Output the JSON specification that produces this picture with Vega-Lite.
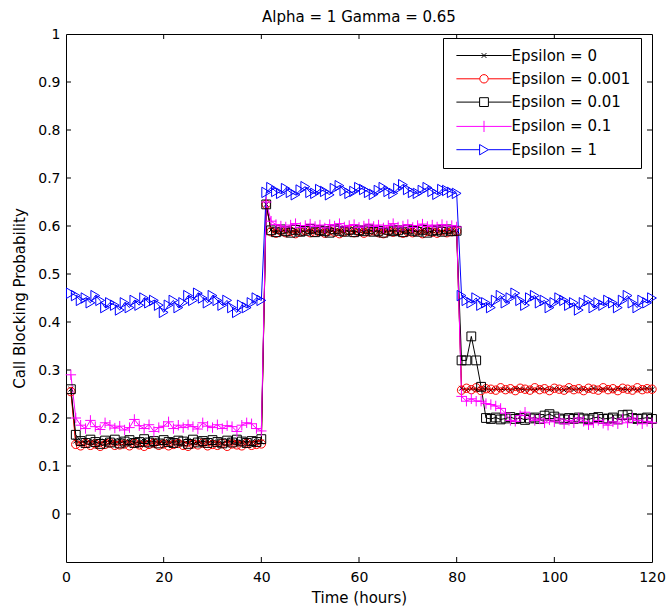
{
"$schema": "https://vega.github.io/schema/vega-lite/v6.json",
"width": 586, "height": 528,
"autosize": "none",
"padding": {"left": 66, "top": 34, "right": 16, "bottom": 47},
"background": "white",
"title": {"text": "Alpha = 1 Gamma = 0.65", "font": "DejaVu Sans", "fontSize": 15, "fontWeight": "normal", "color": "#000000", "offset": 2, "anchor": "middle", "frame": "group"},
"config": {
  "font": "DejaVu Sans",
  "view": {"stroke": "#000000", "strokeWidth": 1},
  "axis": {"domain": false, "grid": false, "ticks": false, "tickSize": 0, "labelColor": "#000000", "labelFont": "DejaVu Sans", "labelFontSize": 14, "titleColor": "#000000", "titleFont": "DejaVu Sans", "titleFontSize": 15, "titleFontWeight": "normal", "labelFlush": false, "labelOverlap": false}
},
"datasets": {
"xt": [{"t":20},{"t":40},{"t":60},{"t":80},{"t":100}],
"yt": [{"p":0},{"p":0.1},{"p":0.2},{"p":0.3},{"p":0.4},{"p":0.5},{"p":0.6},{"p":0.7},{"p":0.8},{"p":0.9}],
"pts": [
{"t":1,"s":"Epsilon = 0","p":0.26},{"t":2,"s":"Epsilon = 0","p":0.152},{"t":3,"s":"Epsilon = 0","p":0.148},{"t":4,"s":"Epsilon = 0","p":0.153},{"t":5,"s":"Epsilon = 0","p":0.149},{"t":6,"s":"Epsilon = 0","p":0.151},{"t":7,"s":"Epsilon = 0","p":0.147},{"t":8,"s":"Epsilon = 0","p":0.152},{"t":9,"s":"Epsilon = 0","p":0.150},{"t":10,"s":"Epsilon = 0","p":0.148},
{"t":11,"s":"Epsilon = 0","p":0.153},{"t":12,"s":"Epsilon = 0","p":0.149},{"t":13,"s":"Epsilon = 0","p":0.151},{"t":14,"s":"Epsilon = 0","p":0.150},{"t":15,"s":"Epsilon = 0","p":0.147},{"t":16,"s":"Epsilon = 0","p":0.152},{"t":17,"s":"Epsilon = 0","p":0.149},{"t":18,"s":"Epsilon = 0","p":0.153},{"t":19,"s":"Epsilon = 0","p":0.150},{"t":20,"s":"Epsilon = 0","p":0.148},
{"t":21,"s":"Epsilon = 0","p":0.151},{"t":22,"s":"Epsilon = 0","p":0.152},{"t":23,"s":"Epsilon = 0","p":0.149},{"t":24,"s":"Epsilon = 0","p":0.147},{"t":25,"s":"Epsilon = 0","p":0.153},{"t":26,"s":"Epsilon = 0","p":0.150},{"t":27,"s":"Epsilon = 0","p":0.148},{"t":28,"s":"Epsilon = 0","p":0.151},{"t":29,"s":"Epsilon = 0","p":0.152},{"t":30,"s":"Epsilon = 0","p":0.149},
{"t":31,"s":"Epsilon = 0","p":0.150},{"t":32,"s":"Epsilon = 0","p":0.147},{"t":33,"s":"Epsilon = 0","p":0.153},{"t":34,"s":"Epsilon = 0","p":0.151},{"t":35,"s":"Epsilon = 0","p":0.148},{"t":36,"s":"Epsilon = 0","p":0.150},{"t":37,"s":"Epsilon = 0","p":0.152},{"t":38,"s":"Epsilon = 0","p":0.149},{"t":39,"s":"Epsilon = 0","p":0.151},{"t":40,"s":"Epsilon = 0","p":0.150},
{"t":41,"s":"Epsilon = 0","p":0.645},{"t":42,"s":"Epsilon = 0","p":0.592},{"t":43,"s":"Epsilon = 0","p":0.588},{"t":44,"s":"Epsilon = 0","p":0.591},{"t":45,"s":"Epsilon = 0","p":0.589},{"t":46,"s":"Epsilon = 0","p":0.593},{"t":47,"s":"Epsilon = 0","p":0.587},{"t":48,"s":"Epsilon = 0","p":0.590},{"t":49,"s":"Epsilon = 0","p":0.592},{"t":50,"s":"Epsilon = 0","p":0.588},
{"t":51,"s":"Epsilon = 0","p":0.591},{"t":52,"s":"Epsilon = 0","p":0.589},{"t":53,"s":"Epsilon = 0","p":0.590},{"t":54,"s":"Epsilon = 0","p":0.593},{"t":55,"s":"Epsilon = 0","p":0.588},{"t":56,"s":"Epsilon = 0","p":0.591},{"t":57,"s":"Epsilon = 0","p":0.589},{"t":58,"s":"Epsilon = 0","p":0.592},{"t":59,"s":"Epsilon = 0","p":0.587},{"t":60,"s":"Epsilon = 0","p":0.590},
{"t":61,"s":"Epsilon = 0","p":0.591},{"t":62,"s":"Epsilon = 0","p":0.588},{"t":63,"s":"Epsilon = 0","p":0.592},{"t":64,"s":"Epsilon = 0","p":0.589},{"t":65,"s":"Epsilon = 0","p":0.590},{"t":66,"s":"Epsilon = 0","p":0.593},{"t":67,"s":"Epsilon = 0","p":0.588},{"t":68,"s":"Epsilon = 0","p":0.591},{"t":69,"s":"Epsilon = 0","p":0.589},{"t":70,"s":"Epsilon = 0","p":0.590},
{"t":71,"s":"Epsilon = 0","p":0.592},{"t":72,"s":"Epsilon = 0","p":0.588},{"t":73,"s":"Epsilon = 0","p":0.591},{"t":74,"s":"Epsilon = 0","p":0.589},{"t":75,"s":"Epsilon = 0","p":0.590},{"t":76,"s":"Epsilon = 0","p":0.592},{"t":77,"s":"Epsilon = 0","p":0.588},{"t":78,"s":"Epsilon = 0","p":0.591},{"t":79,"s":"Epsilon = 0","p":0.589},{"t":80,"s":"Epsilon = 0","p":0.590},
{"t":81,"s":"Epsilon = 0","p":0.262},{"t":82,"s":"Epsilon = 0","p":0.258},{"t":83,"s":"Epsilon = 0","p":0.261},{"t":84,"s":"Epsilon = 0","p":0.259},{"t":85,"s":"Epsilon = 0","p":0.260},{"t":86,"s":"Epsilon = 0","p":0.262},{"t":87,"s":"Epsilon = 0","p":0.258},{"t":88,"s":"Epsilon = 0","p":0.261},{"t":89,"s":"Epsilon = 0","p":0.259},{"t":90,"s":"Epsilon = 0","p":0.260},
{"t":91,"s":"Epsilon = 0","p":0.258},{"t":92,"s":"Epsilon = 0","p":0.262},{"t":93,"s":"Epsilon = 0","p":0.260},{"t":94,"s":"Epsilon = 0","p":0.259},{"t":95,"s":"Epsilon = 0","p":0.261},{"t":96,"s":"Epsilon = 0","p":0.258},{"t":97,"s":"Epsilon = 0","p":0.262},{"t":98,"s":"Epsilon = 0","p":0.260},{"t":99,"s":"Epsilon = 0","p":0.259},{"t":100,"s":"Epsilon = 0","p":0.261},
{"t":101,"s":"Epsilon = 0","p":0.260},{"t":102,"s":"Epsilon = 0","p":0.258},{"t":103,"s":"Epsilon = 0","p":0.262},{"t":104,"s":"Epsilon = 0","p":0.259},{"t":105,"s":"Epsilon = 0","p":0.261},{"t":106,"s":"Epsilon = 0","p":0.260},{"t":107,"s":"Epsilon = 0","p":0.258},{"t":108,"s":"Epsilon = 0","p":0.262},{"t":109,"s":"Epsilon = 0","p":0.259},{"t":110,"s":"Epsilon = 0","p":0.260},
{"t":111,"s":"Epsilon = 0","p":0.261},{"t":112,"s":"Epsilon = 0","p":0.258},{"t":113,"s":"Epsilon = 0","p":0.262},{"t":114,"s":"Epsilon = 0","p":0.260},{"t":115,"s":"Epsilon = 0","p":0.259},{"t":116,"s":"Epsilon = 0","p":0.261},{"t":117,"s":"Epsilon = 0","p":0.258},{"t":118,"s":"Epsilon = 0","p":0.260},{"t":119,"s":"Epsilon = 0","p":0.262},{"t":120,"s":"Epsilon = 0","p":0.259},

{"t":1,"s":"Epsilon = 0.001","p":0.255},{"t":2,"s":"Epsilon = 0.001","p":0.145},{"t":3,"s":"Epsilon = 0.001","p":0.142},{"t":4,"s":"Epsilon = 0.001","p":0.147},{"t":5,"s":"Epsilon = 0.001","p":0.143},{"t":6,"s":"Epsilon = 0.001","p":0.146},{"t":7,"s":"Epsilon = 0.001","p":0.141},{"t":8,"s":"Epsilon = 0.001","p":0.145},{"t":9,"s":"Epsilon = 0.001","p":0.148},{"t":10,"s":"Epsilon = 0.001","p":0.143},
{"t":11,"s":"Epsilon = 0.001","p":0.144},{"t":12,"s":"Epsilon = 0.001","p":0.146},{"t":13,"s":"Epsilon = 0.001","p":0.142},{"t":14,"s":"Epsilon = 0.001","p":0.147},{"t":15,"s":"Epsilon = 0.001","p":0.144},{"t":16,"s":"Epsilon = 0.001","p":0.141},{"t":17,"s":"Epsilon = 0.001","p":0.145},{"t":18,"s":"Epsilon = 0.001","p":0.148},{"t":19,"s":"Epsilon = 0.001","p":0.143},{"t":20,"s":"Epsilon = 0.001","p":0.146},
{"t":21,"s":"Epsilon = 0.001","p":0.142},{"t":22,"s":"Epsilon = 0.001","p":0.145},{"t":23,"s":"Epsilon = 0.001","p":0.147},{"t":24,"s":"Epsilon = 0.001","p":0.143},{"t":25,"s":"Epsilon = 0.001","p":0.141},{"t":26,"s":"Epsilon = 0.001","p":0.146},{"t":27,"s":"Epsilon = 0.001","p":0.144},{"t":28,"s":"Epsilon = 0.001","p":0.148},{"t":29,"s":"Epsilon = 0.001","p":0.142},{"t":30,"s":"Epsilon = 0.001","p":0.145},
{"t":31,"s":"Epsilon = 0.001","p":0.143},{"t":32,"s":"Epsilon = 0.001","p":0.147},{"t":33,"s":"Epsilon = 0.001","p":0.141},{"t":34,"s":"Epsilon = 0.001","p":0.146},{"t":35,"s":"Epsilon = 0.001","p":0.144},{"t":36,"s":"Epsilon = 0.001","p":0.142},{"t":37,"s":"Epsilon = 0.001","p":0.147},{"t":38,"s":"Epsilon = 0.001","p":0.143},{"t":39,"s":"Epsilon = 0.001","p":0.145},{"t":40,"s":"Epsilon = 0.001","p":0.146},
{"t":41,"s":"Epsilon = 0.001","p":0.645},{"t":42,"s":"Epsilon = 0.001","p":0.588},{"t":43,"s":"Epsilon = 0.001","p":0.585},{"t":44,"s":"Epsilon = 0.001","p":0.590},{"t":45,"s":"Epsilon = 0.001","p":0.586},{"t":46,"s":"Epsilon = 0.001","p":0.589},{"t":47,"s":"Epsilon = 0.001","p":0.584},{"t":48,"s":"Epsilon = 0.001","p":0.588},{"t":49,"s":"Epsilon = 0.001","p":0.591},{"t":50,"s":"Epsilon = 0.001","p":0.586},
{"t":51,"s":"Epsilon = 0.001","p":0.587},{"t":52,"s":"Epsilon = 0.001","p":0.589},{"t":53,"s":"Epsilon = 0.001","p":0.585},{"t":54,"s":"Epsilon = 0.001","p":0.590},{"t":55,"s":"Epsilon = 0.001","p":0.587},{"t":56,"s":"Epsilon = 0.001","p":0.584},{"t":57,"s":"Epsilon = 0.001","p":0.588},{"t":58,"s":"Epsilon = 0.001","p":0.591},{"t":59,"s":"Epsilon = 0.001","p":0.586},{"t":60,"s":"Epsilon = 0.001","p":0.589},
{"t":61,"s":"Epsilon = 0.001","p":0.585},{"t":62,"s":"Epsilon = 0.001","p":0.588},{"t":63,"s":"Epsilon = 0.001","p":0.590},{"t":64,"s":"Epsilon = 0.001","p":0.586},{"t":65,"s":"Epsilon = 0.001","p":0.584},{"t":66,"s":"Epsilon = 0.001","p":0.589},{"t":67,"s":"Epsilon = 0.001","p":0.587},{"t":68,"s":"Epsilon = 0.001","p":0.591},{"t":69,"s":"Epsilon = 0.001","p":0.585},{"t":70,"s":"Epsilon = 0.001","p":0.588},
{"t":71,"s":"Epsilon = 0.001","p":0.586},{"t":72,"s":"Epsilon = 0.001","p":0.590},{"t":73,"s":"Epsilon = 0.001","p":0.584},{"t":74,"s":"Epsilon = 0.001","p":0.589},{"t":75,"s":"Epsilon = 0.001","p":0.587},{"t":76,"s":"Epsilon = 0.001","p":0.585},{"t":77,"s":"Epsilon = 0.001","p":0.590},{"t":78,"s":"Epsilon = 0.001","p":0.586},{"t":79,"s":"Epsilon = 0.001","p":0.588},{"t":80,"s":"Epsilon = 0.001","p":0.589},
{"t":81,"s":"Epsilon = 0.001","p":0.258},{"t":82,"s":"Epsilon = 0.001","p":0.262},{"t":83,"s":"Epsilon = 0.001","p":0.259},{"t":84,"s":"Epsilon = 0.001","p":0.263},{"t":85,"s":"Epsilon = 0.001","p":0.257},{"t":86,"s":"Epsilon = 0.001","p":0.261},{"t":87,"s":"Epsilon = 0.001","p":0.260},{"t":88,"s":"Epsilon = 0.001","p":0.258},{"t":89,"s":"Epsilon = 0.001","p":0.263},{"t":90,"s":"Epsilon = 0.001","p":0.259},
{"t":91,"s":"Epsilon = 0.001","p":0.261},{"t":92,"s":"Epsilon = 0.001","p":0.257},{"t":93,"s":"Epsilon = 0.001","p":0.262},{"t":94,"s":"Epsilon = 0.001","p":0.260},{"t":95,"s":"Epsilon = 0.001","p":0.258},{"t":96,"s":"Epsilon = 0.001","p":0.263},{"t":97,"s":"Epsilon = 0.001","p":0.259},{"t":98,"s":"Epsilon = 0.001","p":0.261},{"t":99,"s":"Epsilon = 0.001","p":0.257},{"t":100,"s":"Epsilon = 0.001","p":0.262},
{"t":101,"s":"Epsilon = 0.001","p":0.260},{"t":102,"s":"Epsilon = 0.001","p":0.258},{"t":103,"s":"Epsilon = 0.001","p":0.263},{"t":104,"s":"Epsilon = 0.001","p":0.259},{"t":105,"s":"Epsilon = 0.001","p":0.261},{"t":106,"s":"Epsilon = 0.001","p":0.257},{"t":107,"s":"Epsilon = 0.001","p":0.262},{"t":108,"s":"Epsilon = 0.001","p":0.260},{"t":109,"s":"Epsilon = 0.001","p":0.258},{"t":110,"s":"Epsilon = 0.001","p":0.263},
{"t":111,"s":"Epsilon = 0.001","p":0.259},{"t":112,"s":"Epsilon = 0.001","p":0.261},{"t":113,"s":"Epsilon = 0.001","p":0.257},{"t":114,"s":"Epsilon = 0.001","p":0.262},{"t":115,"s":"Epsilon = 0.001","p":0.260},{"t":116,"s":"Epsilon = 0.001","p":0.258},{"t":117,"s":"Epsilon = 0.001","p":0.263},{"t":118,"s":"Epsilon = 0.001","p":0.259},{"t":119,"s":"Epsilon = 0.001","p":0.261},{"t":120,"s":"Epsilon = 0.001","p":0.260},

{"t":1,"s":"Epsilon = 0.01","p":0.26},{"t":2,"s":"Epsilon = 0.01","p":0.165},{"t":3,"s":"Epsilon = 0.01","p":0.152},{"t":4,"s":"Epsilon = 0.01","p":0.148},{"t":5,"s":"Epsilon = 0.01","p":0.155},{"t":6,"s":"Epsilon = 0.01","p":0.150},{"t":7,"s":"Epsilon = 0.01","p":0.146},{"t":8,"s":"Epsilon = 0.01","p":0.153},{"t":9,"s":"Epsilon = 0.01","p":0.149},{"t":10,"s":"Epsilon = 0.01","p":0.155},
{"t":11,"s":"Epsilon = 0.01","p":0.147},{"t":12,"s":"Epsilon = 0.01","p":0.151},{"t":13,"s":"Epsilon = 0.01","p":0.154},{"t":14,"s":"Epsilon = 0.01","p":0.148},{"t":15,"s":"Epsilon = 0.01","p":0.150},{"t":16,"s":"Epsilon = 0.01","p":0.156},{"t":17,"s":"Epsilon = 0.01","p":0.149},{"t":18,"s":"Epsilon = 0.01","p":0.152},{"t":19,"s":"Epsilon = 0.01","p":0.147},{"t":20,"s":"Epsilon = 0.01","p":0.154},
{"t":21,"s":"Epsilon = 0.01","p":0.150},{"t":22,"s":"Epsilon = 0.01","p":0.148},{"t":23,"s":"Epsilon = 0.01","p":0.153},{"t":24,"s":"Epsilon = 0.01","p":0.151},{"t":25,"s":"Epsilon = 0.01","p":0.146},{"t":26,"s":"Epsilon = 0.01","p":0.155},{"t":27,"s":"Epsilon = 0.01","p":0.149},{"t":28,"s":"Epsilon = 0.01","p":0.152},{"t":29,"s":"Epsilon = 0.01","p":0.148},{"t":30,"s":"Epsilon = 0.01","p":0.154},
{"t":31,"s":"Epsilon = 0.01","p":0.150},{"t":32,"s":"Epsilon = 0.01","p":0.147},{"t":33,"s":"Epsilon = 0.01","p":0.153},{"t":34,"s":"Epsilon = 0.01","p":0.149},{"t":35,"s":"Epsilon = 0.01","p":0.155},{"t":36,"s":"Epsilon = 0.01","p":0.151},{"t":37,"s":"Epsilon = 0.01","p":0.148},{"t":38,"s":"Epsilon = 0.01","p":0.152},{"t":39,"s":"Epsilon = 0.01","p":0.150},{"t":40,"s":"Epsilon = 0.01","p":0.156},
{"t":41,"s":"Epsilon = 0.01","p":0.645},{"t":42,"s":"Epsilon = 0.01","p":0.591},{"t":43,"s":"Epsilon = 0.01","p":0.587},{"t":44,"s":"Epsilon = 0.01","p":0.593},{"t":45,"s":"Epsilon = 0.01","p":0.589},{"t":46,"s":"Epsilon = 0.01","p":0.586},{"t":47,"s":"Epsilon = 0.01","p":0.592},{"t":48,"s":"Epsilon = 0.01","p":0.588},{"t":49,"s":"Epsilon = 0.01","p":0.590},{"t":50,"s":"Epsilon = 0.01","p":0.594},
{"t":51,"s":"Epsilon = 0.01","p":0.587},{"t":52,"s":"Epsilon = 0.01","p":0.591},{"t":53,"s":"Epsilon = 0.01","p":0.589},{"t":54,"s":"Epsilon = 0.01","p":0.586},{"t":55,"s":"Epsilon = 0.01","p":0.593},{"t":56,"s":"Epsilon = 0.01","p":0.590},{"t":57,"s":"Epsilon = 0.01","p":0.588},{"t":58,"s":"Epsilon = 0.01","p":0.592},{"t":59,"s":"Epsilon = 0.01","p":0.587},{"t":60,"s":"Epsilon = 0.01","p":0.591},
{"t":61,"s":"Epsilon = 0.01","p":0.589},{"t":62,"s":"Epsilon = 0.01","p":0.593},{"t":63,"s":"Epsilon = 0.01","p":0.588},{"t":64,"s":"Epsilon = 0.01","p":0.590},{"t":65,"s":"Epsilon = 0.01","p":0.586},{"t":66,"s":"Epsilon = 0.01","p":0.592},{"t":67,"s":"Epsilon = 0.01","p":0.589},{"t":68,"s":"Epsilon = 0.01","p":0.591},{"t":69,"s":"Epsilon = 0.01","p":0.587},{"t":70,"s":"Epsilon = 0.01","p":0.593},
{"t":71,"s":"Epsilon = 0.01","p":0.590},{"t":72,"s":"Epsilon = 0.01","p":0.588},{"t":73,"s":"Epsilon = 0.01","p":0.592},{"t":74,"s":"Epsilon = 0.01","p":0.586},{"t":75,"s":"Epsilon = 0.01","p":0.590},{"t":76,"s":"Epsilon = 0.01","p":0.591},{"t":77,"s":"Epsilon = 0.01","p":0.588},{"t":78,"s":"Epsilon = 0.01","p":0.593},{"t":79,"s":"Epsilon = 0.01","p":0.589},{"t":80,"s":"Epsilon = 0.01","p":0.590},
{"t":81,"s":"Epsilon = 0.01","p":0.32},{"t":82,"s":"Epsilon = 0.01","p":0.32},{"t":83,"s":"Epsilon = 0.01","p":0.37},{"t":84,"s":"Epsilon = 0.01","p":0.32},{"t":85,"s":"Epsilon = 0.01","p":0.265},{"t":86,"s":"Epsilon = 0.01","p":0.200},{"t":87,"s":"Epsilon = 0.01","p":0.198},{"t":88,"s":"Epsilon = 0.01","p":0.201},{"t":89,"s":"Epsilon = 0.01","p":0.197},{"t":90,"s":"Epsilon = 0.01","p":0.199},
{"t":91,"s":"Epsilon = 0.01","p":0.202},{"t":92,"s":"Epsilon = 0.01","p":0.198},{"t":93,"s":"Epsilon = 0.01","p":0.200},{"t":94,"s":"Epsilon = 0.01","p":0.196},{"t":95,"s":"Epsilon = 0.01","p":0.199},{"t":96,"s":"Epsilon = 0.01","p":0.201},{"t":97,"s":"Epsilon = 0.01","p":0.198},{"t":98,"s":"Epsilon = 0.01","p":0.205},{"t":99,"s":"Epsilon = 0.01","p":0.208},{"t":100,"s":"Epsilon = 0.01","p":0.203},
{"t":101,"s":"Epsilon = 0.01","p":0.199},{"t":102,"s":"Epsilon = 0.01","p":0.197},{"t":103,"s":"Epsilon = 0.01","p":0.200},{"t":104,"s":"Epsilon = 0.01","p":0.198},{"t":105,"s":"Epsilon = 0.01","p":0.201},{"t":106,"s":"Epsilon = 0.01","p":0.199},{"t":107,"s":"Epsilon = 0.01","p":0.197},{"t":108,"s":"Epsilon = 0.01","p":0.200},{"t":109,"s":"Epsilon = 0.01","p":0.202},{"t":110,"s":"Epsilon = 0.01","p":0.198},
{"t":111,"s":"Epsilon = 0.01","p":0.199},{"t":112,"s":"Epsilon = 0.01","p":0.201},{"t":113,"s":"Epsilon = 0.01","p":0.197},{"t":114,"s":"Epsilon = 0.01","p":0.206},{"t":115,"s":"Epsilon = 0.01","p":0.207},{"t":116,"s":"Epsilon = 0.01","p":0.200},{"t":117,"s":"Epsilon = 0.01","p":0.198},{"t":118,"s":"Epsilon = 0.01","p":0.199},{"t":119,"s":"Epsilon = 0.01","p":0.201},{"t":120,"s":"Epsilon = 0.01","p":0.198},

{"t":1,"s":"Epsilon = 0.1","p":0.29},{"t":2,"s":"Epsilon = 0.1","p":0.20},{"t":3,"s":"Epsilon = 0.1","p":0.185},{"t":4,"s":"Epsilon = 0.1","p":0.178},{"t":5,"s":"Epsilon = 0.1","p":0.195},{"t":6,"s":"Epsilon = 0.1","p":0.182},{"t":7,"s":"Epsilon = 0.1","p":0.176},{"t":8,"s":"Epsilon = 0.1","p":0.190},{"t":9,"s":"Epsilon = 0.1","p":0.185},{"t":10,"s":"Epsilon = 0.1","p":0.179},
{"t":11,"s":"Epsilon = 0.1","p":0.183},{"t":12,"s":"Epsilon = 0.1","p":0.175},{"t":13,"s":"Epsilon = 0.1","p":0.180},{"t":14,"s":"Epsilon = 0.1","p":0.197},{"t":15,"s":"Epsilon = 0.1","p":0.184},{"t":16,"s":"Epsilon = 0.1","p":0.178},{"t":17,"s":"Epsilon = 0.1","p":0.186},{"t":18,"s":"Epsilon = 0.1","p":0.172},{"t":19,"s":"Epsilon = 0.1","p":0.180},{"t":20,"s":"Epsilon = 0.1","p":0.183},
{"t":21,"s":"Epsilon = 0.1","p":0.192},{"t":22,"s":"Epsilon = 0.1","p":0.178},{"t":23,"s":"Epsilon = 0.1","p":0.185},{"t":24,"s":"Epsilon = 0.1","p":0.180},{"t":25,"s":"Epsilon = 0.1","p":0.186},{"t":26,"s":"Epsilon = 0.1","p":0.182},{"t":27,"s":"Epsilon = 0.1","p":0.177},{"t":28,"s":"Epsilon = 0.1","p":0.190},{"t":29,"s":"Epsilon = 0.1","p":0.183},{"t":30,"s":"Epsilon = 0.1","p":0.180},
{"t":31,"s":"Epsilon = 0.1","p":0.186},{"t":32,"s":"Epsilon = 0.1","p":0.178},{"t":33,"s":"Epsilon = 0.1","p":0.184},{"t":34,"s":"Epsilon = 0.1","p":0.182},{"t":35,"s":"Epsilon = 0.1","p":0.172},{"t":36,"s":"Epsilon = 0.1","p":0.185},{"t":37,"s":"Epsilon = 0.1","p":0.190},{"t":38,"s":"Epsilon = 0.1","p":0.188},{"t":39,"s":"Epsilon = 0.1","p":0.178},{"t":40,"s":"Epsilon = 0.1","p":0.173},
{"t":41,"s":"Epsilon = 0.1","p":0.65},{"t":42,"s":"Epsilon = 0.1","p":0.610},{"t":43,"s":"Epsilon = 0.1","p":0.603},{"t":44,"s":"Epsilon = 0.1","p":0.600},{"t":45,"s":"Epsilon = 0.1","p":0.598},{"t":46,"s":"Epsilon = 0.1","p":0.602},{"t":47,"s":"Epsilon = 0.1","p":0.605},{"t":48,"s":"Epsilon = 0.1","p":0.597},{"t":49,"s":"Epsilon = 0.1","p":0.601},{"t":50,"s":"Epsilon = 0.1","p":0.604},
{"t":51,"s":"Epsilon = 0.1","p":0.599},{"t":52,"s":"Epsilon = 0.1","p":0.602},{"t":53,"s":"Epsilon = 0.1","p":0.596},{"t":54,"s":"Epsilon = 0.1","p":0.603},{"t":55,"s":"Epsilon = 0.1","p":0.600},{"t":56,"s":"Epsilon = 0.1","p":0.605},{"t":57,"s":"Epsilon = 0.1","p":0.598},{"t":58,"s":"Epsilon = 0.1","p":0.601},{"t":59,"s":"Epsilon = 0.1","p":0.603},{"t":60,"s":"Epsilon = 0.1","p":0.597},
{"t":61,"s":"Epsilon = 0.1","p":0.600},{"t":62,"s":"Epsilon = 0.1","p":0.604},{"t":63,"s":"Epsilon = 0.1","p":0.599},{"t":64,"s":"Epsilon = 0.1","p":0.602},{"t":65,"s":"Epsilon = 0.1","p":0.596},{"t":66,"s":"Epsilon = 0.1","p":0.601},{"t":67,"s":"Epsilon = 0.1","p":0.605},{"t":68,"s":"Epsilon = 0.1","p":0.598},{"t":69,"s":"Epsilon = 0.1","p":0.600},{"t":70,"s":"Epsilon = 0.1","p":0.603},
{"t":71,"s":"Epsilon = 0.1","p":0.597},{"t":72,"s":"Epsilon = 0.1","p":0.601},{"t":73,"s":"Epsilon = 0.1","p":0.604},{"t":74,"s":"Epsilon = 0.1","p":0.599},{"t":75,"s":"Epsilon = 0.1","p":0.602},{"t":76,"s":"Epsilon = 0.1","p":0.598},{"t":77,"s":"Epsilon = 0.1","p":0.603},{"t":78,"s":"Epsilon = 0.1","p":0.600},{"t":79,"s":"Epsilon = 0.1","p":0.601},{"t":80,"s":"Epsilon = 0.1","p":0.598},
{"t":81,"s":"Epsilon = 0.1","p":0.245},{"t":82,"s":"Epsilon = 0.1","p":0.235},{"t":83,"s":"Epsilon = 0.1","p":0.240},{"t":84,"s":"Epsilon = 0.1","p":0.235},{"t":85,"s":"Epsilon = 0.1","p":0.235},{"t":86,"s":"Epsilon = 0.1","p":0.230},{"t":87,"s":"Epsilon = 0.1","p":0.228},{"t":88,"s":"Epsilon = 0.1","p":0.225},{"t":89,"s":"Epsilon = 0.1","p":0.220},{"t":90,"s":"Epsilon = 0.1","p":0.210},
{"t":91,"s":"Epsilon = 0.1","p":0.195},{"t":92,"s":"Epsilon = 0.1","p":0.193},{"t":93,"s":"Epsilon = 0.1","p":0.205},{"t":94,"s":"Epsilon = 0.1","p":0.212},{"t":95,"s":"Epsilon = 0.1","p":0.200},{"t":96,"s":"Epsilon = 0.1","p":0.195},{"t":97,"s":"Epsilon = 0.1","p":0.198},{"t":98,"s":"Epsilon = 0.1","p":0.190},{"t":99,"s":"Epsilon = 0.1","p":0.196},{"t":100,"s":"Epsilon = 0.1","p":0.192},
{"t":101,"s":"Epsilon = 0.1","p":0.198},{"t":102,"s":"Epsilon = 0.1","p":0.188},{"t":103,"s":"Epsilon = 0.1","p":0.195},{"t":104,"s":"Epsilon = 0.1","p":0.190},{"t":105,"s":"Epsilon = 0.1","p":0.200},{"t":106,"s":"Epsilon = 0.1","p":0.193},{"t":107,"s":"Epsilon = 0.1","p":0.186},{"t":108,"s":"Epsilon = 0.1","p":0.190},{"t":109,"s":"Epsilon = 0.1","p":0.195},{"t":110,"s":"Epsilon = 0.1","p":0.189},
{"t":111,"s":"Epsilon = 0.1","p":0.185},{"t":112,"s":"Epsilon = 0.1","p":0.192},{"t":113,"s":"Epsilon = 0.1","p":0.188},{"t":114,"s":"Epsilon = 0.1","p":0.198},{"t":115,"s":"Epsilon = 0.1","p":0.190},{"t":116,"s":"Epsilon = 0.1","p":0.200},{"t":117,"s":"Epsilon = 0.1","p":0.195},{"t":118,"s":"Epsilon = 0.1","p":0.188},{"t":119,"s":"Epsilon = 0.1","p":0.193},{"t":120,"s":"Epsilon = 0.1","p":0.190},

{"t":1,"s":"Epsilon = 1","p":0.460},{"t":2,"s":"Epsilon = 1","p":0.455},{"t":3,"s":"Epsilon = 1","p":0.445},{"t":4,"s":"Epsilon = 1","p":0.450},{"t":5,"s":"Epsilon = 1","p":0.440},{"t":6,"s":"Epsilon = 1","p":0.455},{"t":7,"s":"Epsilon = 1","p":0.445},{"t":8,"s":"Epsilon = 1","p":0.430},{"t":9,"s":"Epsilon = 1","p":0.440},{"t":10,"s":"Epsilon = 1","p":0.435},
{"t":11,"s":"Epsilon = 1","p":0.425},{"t":12,"s":"Epsilon = 1","p":0.440},{"t":13,"s":"Epsilon = 1","p":0.430},{"t":14,"s":"Epsilon = 1","p":0.445},{"t":15,"s":"Epsilon = 1","p":0.435},{"t":16,"s":"Epsilon = 1","p":0.450},{"t":17,"s":"Epsilon = 1","p":0.440},{"t":18,"s":"Epsilon = 1","p":0.445},{"t":19,"s":"Epsilon = 1","p":0.435},{"t":20,"s":"Epsilon = 1","p":0.420},
{"t":21,"s":"Epsilon = 1","p":0.435},{"t":22,"s":"Epsilon = 1","p":0.445},{"t":23,"s":"Epsilon = 1","p":0.430},{"t":24,"s":"Epsilon = 1","p":0.440},{"t":25,"s":"Epsilon = 1","p":0.455},{"t":26,"s":"Epsilon = 1","p":0.445},{"t":27,"s":"Epsilon = 1","p":0.460},{"t":28,"s":"Epsilon = 1","p":0.450},{"t":29,"s":"Epsilon = 1","p":0.440},{"t":30,"s":"Epsilon = 1","p":0.455},
{"t":31,"s":"Epsilon = 1","p":0.445},{"t":32,"s":"Epsilon = 1","p":0.435},{"t":33,"s":"Epsilon = 1","p":0.445},{"t":34,"s":"Epsilon = 1","p":0.430},{"t":35,"s":"Epsilon = 1","p":0.420},{"t":36,"s":"Epsilon = 1","p":0.435},{"t":37,"s":"Epsilon = 1","p":0.430},{"t":38,"s":"Epsilon = 1","p":0.440},{"t":39,"s":"Epsilon = 1","p":0.450},{"t":40,"s":"Epsilon = 1","p":0.445},
{"t":41,"s":"Epsilon = 1","p":0.670},{"t":42,"s":"Epsilon = 1","p":0.680},{"t":43,"s":"Epsilon = 1","p":0.672},{"t":44,"s":"Epsilon = 1","p":0.668},{"t":45,"s":"Epsilon = 1","p":0.678},{"t":46,"s":"Epsilon = 1","p":0.670},{"t":47,"s":"Epsilon = 1","p":0.665},{"t":48,"s":"Epsilon = 1","p":0.675},{"t":49,"s":"Epsilon = 1","p":0.682},{"t":50,"s":"Epsilon = 1","p":0.670},
{"t":51,"s":"Epsilon = 1","p":0.668},{"t":52,"s":"Epsilon = 1","p":0.676},{"t":53,"s":"Epsilon = 1","p":0.672},{"t":54,"s":"Epsilon = 1","p":0.665},{"t":55,"s":"Epsilon = 1","p":0.678},{"t":56,"s":"Epsilon = 1","p":0.684},{"t":57,"s":"Epsilon = 1","p":0.674},{"t":58,"s":"Epsilon = 1","p":0.668},{"t":59,"s":"Epsilon = 1","p":0.672},{"t":60,"s":"Epsilon = 1","p":0.680},
{"t":61,"s":"Epsilon = 1","p":0.676},{"t":62,"s":"Epsilon = 1","p":0.670},{"t":63,"s":"Epsilon = 1","p":0.666},{"t":64,"s":"Epsilon = 1","p":0.674},{"t":65,"s":"Epsilon = 1","p":0.680},{"t":66,"s":"Epsilon = 1","p":0.672},{"t":67,"s":"Epsilon = 1","p":0.668},{"t":68,"s":"Epsilon = 1","p":0.678},{"t":69,"s":"Epsilon = 1","p":0.686},{"t":70,"s":"Epsilon = 1","p":0.676},
{"t":71,"s":"Epsilon = 1","p":0.670},{"t":72,"s":"Epsilon = 1","p":0.668},{"t":73,"s":"Epsilon = 1","p":0.674},{"t":74,"s":"Epsilon = 1","p":0.680},{"t":75,"s":"Epsilon = 1","p":0.672},{"t":76,"s":"Epsilon = 1","p":0.666},{"t":77,"s":"Epsilon = 1","p":0.676},{"t":78,"s":"Epsilon = 1","p":0.674},{"t":79,"s":"Epsilon = 1","p":0.670},{"t":80,"s":"Epsilon = 1","p":0.668},
{"t":81,"s":"Epsilon = 1","p":0.455},{"t":82,"s":"Epsilon = 1","p":0.445},{"t":83,"s":"Epsilon = 1","p":0.440},{"t":84,"s":"Epsilon = 1","p":0.450},{"t":85,"s":"Epsilon = 1","p":0.435},{"t":86,"s":"Epsilon = 1","p":0.440},{"t":87,"s":"Epsilon = 1","p":0.430},{"t":88,"s":"Epsilon = 1","p":0.445},{"t":89,"s":"Epsilon = 1","p":0.455},{"t":90,"s":"Epsilon = 1","p":0.440},
{"t":91,"s":"Epsilon = 1","p":0.450},{"t":92,"s":"Epsilon = 1","p":0.460},{"t":93,"s":"Epsilon = 1","p":0.445},{"t":94,"s":"Epsilon = 1","p":0.435},{"t":95,"s":"Epsilon = 1","p":0.450},{"t":96,"s":"Epsilon = 1","p":0.455},{"t":97,"s":"Epsilon = 1","p":0.440},{"t":98,"s":"Epsilon = 1","p":0.445},{"t":99,"s":"Epsilon = 1","p":0.430},{"t":100,"s":"Epsilon = 1","p":0.440},
{"t":101,"s":"Epsilon = 1","p":0.450},{"t":102,"s":"Epsilon = 1","p":0.445},{"t":103,"s":"Epsilon = 1","p":0.435},{"t":104,"s":"Epsilon = 1","p":0.440},{"t":105,"s":"Epsilon = 1","p":0.425},{"t":106,"s":"Epsilon = 1","p":0.440},{"t":107,"s":"Epsilon = 1","p":0.445},{"t":108,"s":"Epsilon = 1","p":0.430},{"t":109,"s":"Epsilon = 1","p":0.440},{"t":110,"s":"Epsilon = 1","p":0.435},
{"t":111,"s":"Epsilon = 1","p":0.445},{"t":112,"s":"Epsilon = 1","p":0.440},{"t":113,"s":"Epsilon = 1","p":0.430},{"t":114,"s":"Epsilon = 1","p":0.445},{"t":115,"s":"Epsilon = 1","p":0.455},{"t":116,"s":"Epsilon = 1","p":0.440},{"t":117,"s":"Epsilon = 1","p":0.430},{"t":118,"s":"Epsilon = 1","p":0.445},{"t":119,"s":"Epsilon = 1","p":0.440},{"t":120,"s":"Epsilon = 1","p":0.450}
]
},
"data": {"name": "pts"},
"layer": [
  {
    "data": {"name": "xt"},
    "mark": {"type": "tick", "orient": "vertical", "size": 10, "thickness": 1, "color": "#000000", "opacity": 1, "clip": true},
    "encoding": {"x": {"field": "t", "type": "quantitative"}, "y": {"datum": -0.1, "type": "quantitative"}}
  },
  {
    "data": {"name": "xt"},
    "mark": {"type": "tick", "orient": "vertical", "size": 10, "thickness": 1, "color": "#000000", "opacity": 1, "clip": true},
    "encoding": {"x": {"field": "t", "type": "quantitative"}, "y": {"datum": 1, "type": "quantitative"}}
  },
  {
    "data": {"name": "yt"},
    "mark": {"type": "tick", "orient": "horizontal", "size": 10, "thickness": 1, "color": "#000000", "opacity": 1, "clip": true},
    "encoding": {"y": {"field": "p", "type": "quantitative"}, "x": {"datum": 0, "type": "quantitative"}}
  },
  {
    "data": {"name": "yt"},
    "mark": {"type": "tick", "orient": "horizontal", "size": 10, "thickness": 1, "color": "#000000", "opacity": 1, "clip": true},
    "encoding": {"y": {"field": "p", "type": "quantitative"}, "x": {"datum": 120, "type": "quantitative"}}
  },
  {
    "mark": {"type": "line", "strokeWidth": 1},
    "encoding": {
      "x": {"field": "t", "type": "quantitative", "scale": {"domain": [0, 120], "nice": false, "zero": false},
            "axis": {"orient": "bottom", "values": [0, 20, 40, 60, 80, 100, 120], "title": "Time (hours)", "labelPadding": 8, "titlePadding": 6}},
      "y": {"field": "p", "type": "quantitative", "scale": {"domain": [-0.1, 1], "nice": false, "zero": false},
            "axis": {"orient": "left", "values": [0, 0.1, 0.2, 0.3, 0.4, 0.5, 0.6, 0.7, 0.8, 0.9, 1], "format": "~g", "title": "Call Blocking Probability", "labelPadding": 6, "titlePadding": 10}},
      "color": {"field": "s", "type": "nominal",
        "scale": {"domain": ["Epsilon = 0", "Epsilon = 0.001", "Epsilon = 0.01", "Epsilon = 0.1", "Epsilon = 1"], "range": ["#000000", "#ff0000", "#000000", "#ff00ff", "#0000ff"]},
        "legend": {
          "orient": "none", "legendX": 377, "legendY": 4, "title": null,
          "fillColor": "#ffffff", "strokeColor": "#000000", "padding": 10,
          "labelFont": "DejaVu Sans", "labelFontSize": 15, "labelColor": "#000000",
          "labelExpr": "datum.label + '  '",
          "symbolSize": 64, "symbolStrokeWidth": 1, "symbolOffset": 23.5, "labelOffset": 20, "rowPadding": 7.3,
          "encode": {"symbols": {"update": {
            "shape": {"signal": "datum.value === 'Epsilon = 0' ? 'M-6.9,0L6.9,0M-0.6,-0.6L0.6,0.6M-0.6,0.6L0.6,-0.6' : datum.value === 'Epsilon = 0.001' ? 'M-6.9,0L-1.05,0M1.05,0L6.9,0M-1.05,0A1.05,1.05,0,1,1,1.05,0A1.05,1.05,0,1,1,-1.05,0Z' : datum.value === 'Epsilon = 0.01' ? 'M-6.9,0L-1.1,0M1.1,0L6.9,0M-1.1,-1.1L1.1,-1.1L1.1,1.1L-1.1,1.1Z' : datum.value === 'Epsilon = 0.1' ? 'M-6.9,0L6.9,0M0,-1.4L0,1.4' : 'M-6.9,0L-1.1,0M1.1,0L6.9,0M-1.1,-1.3L1.1,0L-1.1,1.3Z'"},
            "fill": {"value": "transparent"}
          }}}
        }}
    }
  },
  {
    "transform": [{"filter": {"field": "s", "equal": "Epsilon = 0"}}],
    "mark": {"type": "point", "filled": false, "strokeWidth": 1, "size": 64, "opacity": 1, "shape": "M-0.6,-0.6L0.6,0.6M-0.6,0.6L0.6,-0.6"},
    "encoding": {"x": {"field": "t", "type": "quantitative"}, "y": {"field": "p", "type": "quantitative"}, "color": {"field": "s", "type": "nominal"}}
  },
  {
    "transform": [{"filter": {"field": "s", "equal": "Epsilon = 0.001"}}],
    "mark": {"type": "point", "filled": false, "strokeWidth": 1, "size": 64, "opacity": 1, "shape": "M-1.05,0A1.05,1.05,0,1,1,1.05,0A1.05,1.05,0,1,1,-1.05,0Z"},
    "encoding": {"x": {"field": "t", "type": "quantitative"}, "y": {"field": "p", "type": "quantitative"}, "color": {"field": "s", "type": "nominal"}}
  },
  {
    "transform": [{"filter": {"field": "s", "equal": "Epsilon = 0.01"}}],
    "mark": {"type": "point", "filled": false, "strokeWidth": 1, "size": 64, "opacity": 1, "shape": "M-1.1,-1.1L1.1,-1.1L1.1,1.1L-1.1,1.1Z"},
    "encoding": {"x": {"field": "t", "type": "quantitative"}, "y": {"field": "p", "type": "quantitative"}, "color": {"field": "s", "type": "nominal"}}
  },
  {
    "transform": [{"filter": {"field": "s", "equal": "Epsilon = 0.1"}}],
    "mark": {"type": "point", "filled": false, "strokeWidth": 1, "size": 64, "opacity": 1, "shape": "M-1.3,0L1.3,0M0,-1.3L0,1.3"},
    "encoding": {"x": {"field": "t", "type": "quantitative"}, "y": {"field": "p", "type": "quantitative"}, "color": {"field": "s", "type": "nominal"}}
  },
  {
    "transform": [{"filter": {"field": "s", "equal": "Epsilon = 1"}}],
    "mark": {"type": "point", "filled": false, "strokeWidth": 1, "size": 64, "opacity": 1, "shape": "M-1.1,-1.3L1.1,0L-1.1,1.3Z"},
    "encoding": {"x": {"field": "t", "type": "quantitative"}, "y": {"field": "p", "type": "quantitative"}, "color": {"field": "s", "type": "nominal"}}
  }
]
}
